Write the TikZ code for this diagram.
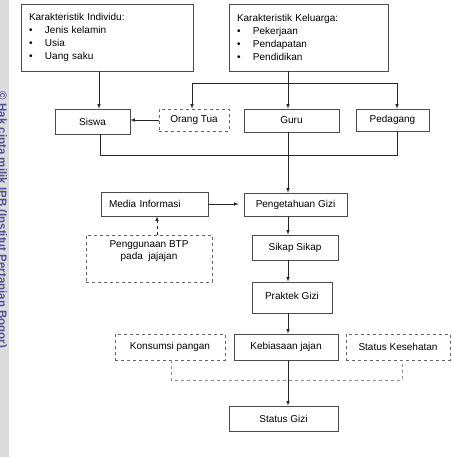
\documentclass[tikz,border=0pt]{standalone}
\usepackage{fontspec}
\setmainfont{Liberation Sans}

\begin{document}
\begin{tikzpicture}[x=1pt, y=-1pt, line width=.6pt, >=latex,
  font=\fontsize{10}{13}\selectfont,
  box/.style={draw=black!70, inner sep=0pt},
  dbox/.style={draw=black!60, dashed, inner sep=0pt},
  link/.style={draw=black!85},
  dlink/.style={draw=black!45, dashed}]
\useasboundingbox (0,0) rectangle (451,457);

% strip on the left
\fill[black!14] (0,0) rectangle (8.5,457);
\begin{scope}
\clip (0,0) rectangle (8.5,457);
\node[rotate=-90, text={rgb,255:red,80;green,80;blue,150}, font=\bfseries\fontsize{11.5}{12}\selectfont] (mark) at (1.5,220) {© Hak cipta milik IPB (Institut Pertanian Bogor)};
\end{scope}

% characteristics
\node[box, minimum width=172, minimum height=67, text width=156, align=left] (indiv) at (107,37.5)
  {Karakteristik Individu:\\
   \makebox[16pt][l]{\textbullet}Jenis kelamin\\
   \makebox[16pt][l]{\textbullet}Usia\\
   \makebox[16pt][l]{\textbullet}Uang saku};
\node[box, minimum width=159, minimum height=67, text width=143, align=left] (kel) at (308.5,37.5)
  {Karakteristik Keluarga:\\
   \makebox[16pt][l]{\textbullet}Pekerjaan\\
   \makebox[16pt][l]{\textbullet}Pendapatan\\
   \makebox[16pt][l]{\textbullet}Pendidikan};

% second row
\node[box, minimum width=75, minimum height=25] (siswa) at (92.5,121.5) {Siswa};
\node[dbox, minimum width=70, minimum height=22] (ortu) at (194,120) {Orang Tua};
\node[box, minimum width=95, minimum height=23] (guru) at (291.5,120.5) {Guru};
\node[box, minimum width=73, minimum height=22] (dagang) at (392.5,120) {Pedagang};

% middle part
\node[box, minimum width=107, minimum height=24, text width=91, align=left] (media) at (154.5,204) {Media Informasi};
\node[dbox, minimum width=126, minimum height=47, align=center] (btp) at (149,258.5) {Penggunaan BTP\\[-1pt]pada \ jajajan\\[4pt]};
\node[box, minimum width=103, minimum height=23] (peng) at (295.5,204.5) {Pengetahuan Gizi};
\node[box, minimum width=86, minimum height=25] (sikap) at (295,247.5) {Sikap Sikap};
\node[box, minimum width=80, minimum height=31] (praktek) at (292,297.5) {\raisebox{4pt}{Praktek Gizi}};

% bottom
\node[dbox, minimum width=110, minimum height=26] (kons) at (170,347) {Konsumsi pangan};
\node[box, minimum width=104, minimum height=26] (jajan) at (286,347) {Kebiasaan jajan};
\node[dbox, minimum width=104, minimum height=26] (sehat) at (398,347) {Status Kesehatan};
\node[box, minimum width=109, minimum height=25] (gizi) at (283.5,418.5) {Status Gizi};

% junctions
\coordinate (spine) at (288,0);
\coordinate (indx) at (99,0);
\coordinate (splitL) at (192,83);
\coordinate (splitR) at (397,83);
\coordinate (joinL) at (100,155);
\coordinate (joinR) at (397,155);
\coordinate (btpx) at (157,0);
\coordinate (dashL) at (171,380);
\coordinate (dashR) at (402,380);

\draw[link, ->] (indiv.south -| indx) -- (siswa.north -| indx);
\draw[link, ->] (kel.south -| spine) -- (guru.north -| spine);
\draw[link] (splitL) -- (splitR);
\draw[link, ->] (splitL) -- (splitL |- ortu.north);
\draw[link, ->] (splitR) -- (splitR |- dagang.north);
\draw[link, ->] (ortu.west) -- (ortu.west -| siswa.east);

\draw[link] (siswa.south -| joinL) -- (joinL) -- (joinR) -- (joinR |- dagang.south);
\draw[link, ->] (guru.south -| spine) -- (peng.north -| spine);

\draw[link, ->, shorten >=5pt] (media.east) -- (media.east -| peng.west);
\draw[link, ->, dashed] (btp.north -| btpx) -- (media.south -| btpx);

\draw[link, ->] (peng.south -| spine) -- (sikap.north -| spine);
\draw[link, ->] (sikap.south -| spine) -- (praktek.north -| spine);
\draw[link, ->] (praktek.south -| spine) -- (jajan.north -| spine);
\draw[link, ->] (jajan.south -| spine) -- (gizi.north -| spine);

\draw[dlink] (kons.south -| dashL) -- (dashL) -- (dashR) -- (sehat.south -| dashR);
\end{tikzpicture}
\end{document}
